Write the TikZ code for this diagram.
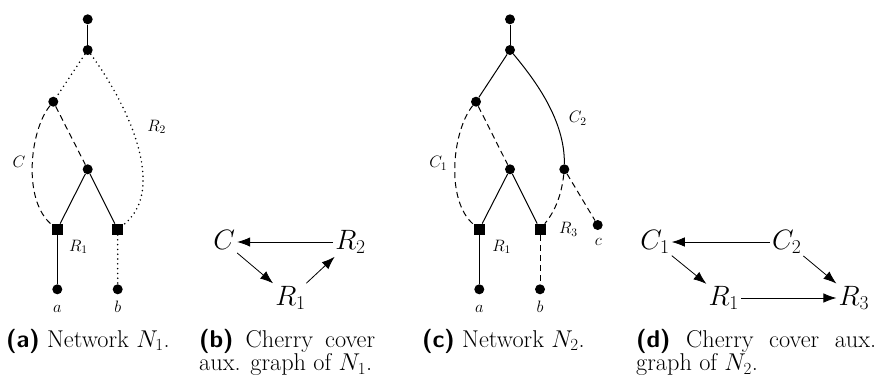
\RequirePackage{fix-cm}
\documentclass[tikz,border=0pt]{standalone}
\usetikzlibrary{arrows.meta}
\newcommand{\capfont}{\fontsize{24.3}{27}\selectfont}
\newcommand{\lblfont}{\fontsize{16.5}{19}\selectfont}
\newcommand{\bigfont}{\fontsize{28}{33}\selectfont}
\newcommand{\capline}[2]{\hbox to #1{\spaceskip=.333em plus 1fil minus .1em\relax #2}}
\newcommand{\sublabel}[1]{{\sffamily\bfseries (#1)}}
\tikzset{
  vdot/.style={circle, fill, inner sep=0pt, minimum size=10pt},
  vsq/.style={rectangle, fill, inner sep=0pt, minimum size=11pt},
  lbl/.style={font=\lblfont, inner sep=0pt},
  lblb/.style={font=\lblfont, inner sep=0pt, anchor=base},
  bignode/.style={font=\bigfont, inner sep=2pt, text height=19.6pt, text depth=5.6pt},
  captext/.style={font=\capfont, inner sep=0pt, anchor=base west},
  solidline/.style={line width=1pt},
  dsh/.style={solidline, dash pattern=on 6pt off 4pt},
  dtd/.style={line width=1.7pt, dash pattern=on 0pt off 4.8pt, line cap=round},
  arr/.style={line width=0.8pt, -{Latex[length=13pt,width=9.5pt]}}
}
\begin{document}
\begin{tikzpicture}[x=1pt,y=-1pt]
\useasboundingbox (0,0) rectangle (883,376);
% ---------- (a) ----------
\node[vdot] (at1) at (87.7,19.3) {};
\node[vdot] (at2) at (87.7,50) {};
\node[vdot] (al) at (53.3,101.7) {};
\node[vdot] (am) at (87.7,169.3) {};
\node[vsq] (as1) at (57.3,229.3) {};
\node[vsq] (as2) at (117.7,229.3) {};
\node[vdot] (aa) at (57.3,289.3) {};
\node[vdot] (ab) at (117.7,289.3) {};
\draw[solidline] (at1) -- (at2);
\draw[dtd] (at2) -- (al);
\draw[dtd] (at2) .. controls (128,105) and (168,190) .. (as2);
\draw[dsh] (al) -- (am);
\draw[dsh] (al) .. controls (30,130) and (22,200) .. (as1);
\draw[solidline] (am) -- (as1);
\draw[solidline] (am) -- (as2);
\draw[solidline] (as1) -- (aa);
\draw[dtd] (as2) -- (ab);
\node[lbl] (aC) at (19,162) {$C$};
\node[lbl] (aR2) at (156.7,127) {$R_2$};
\node[lbl] (aR1) at (78.3,247) {$R_1$};
\node[lblb] (ala) at (57.3,312) {$a$};
\node[lblb] (alb) at (117.7,312) {$b$};
% ---------- (b) ----------
\node[bignode] (bC) at (224.2,242) {$C$};
\node[bignode] (bR2) at (350.5,242) {$R_2$};
\node[bignode] (bR1) at (290.5,298) {$R_1$};
\draw[arr] (bR2) -- (bC);
\draw[arr] (bC) -- (bR1);
\draw[arr] (bR1) -- (bR2);
% ---------- (c) ----------
\node[vdot] (ct1) at (510,19.3) {};
\node[vdot] (ct2) at (510,50) {};
\node[vdot] (cl) at (476,101.7) {};
\node[vdot] (cm) at (510,169.3) {};
\node[vdot] (cr) at (564.3,169.3) {};
\node[vsq] (cs1) at (479.3,229.3) {};
\node[vsq] (cs3) at (540,229.3) {};
\node[vdot] (cc) at (597.7,225) {};
\node[vdot] (ca) at (479.3,289.3) {};
\node[vdot] (cb) at (540,289.3) {};
\draw[solidline] (ct1) -- (ct2);
\draw[solidline] (ct2) -- (cl);
\draw[solidline] (ct2) .. controls (535,80) and (565,120) .. (cr);
\draw[dsh] (cl) -- (cm);
\draw[dsh] (cl) .. controls (452.7,130) and (444.7,200) .. (cs1);
\draw[solidline] (cm) -- (cs1);
\draw[solidline] (cm) -- (cs3);
\draw[dsh] (cr) .. controls (561,200) and (552,215) .. (cs3);
\draw[dsh] (cr) -- (cc);
\draw[solidline] (cs1) -- (ca);
\draw[dsh] (cs3) -- (cb);
\node[lbl] (cC1) at (438.3,163.3) {$C_1$};
\node[lbl] (cC2) at (577.7,118.3) {$C_2$};
\node[lbl] (cR1) at (501.7,247) {$R_1$};
\node[lbl] (cR3) at (568.3,229.3) {$R_3$};
\node[lbl] (clc) at (598.3,241.7) {$c$};
\node[lblb] (cla) at (479.3,312) {$a$};
\node[lblb] (clb) at (540,312) {$b$};
% ---------- (d) ----------
\node[bignode] (dC1) at (655,242) {$C_1$};
\node[bignode] (dC2) at (786.7,242) {$C_2$};
\node[bignode] (dR1) at (723.8,298) {$R_1$};
\node[bignode] (dR3) at (853.8,298) {$R_3$};
\draw[arr] (dC2) -- (dC1);
\draw[arr] (dC1) -- (dR1);
\draw[arr] (dC2) -- (dR3);
\draw[arr] (dR1) -- (dR3);
% ---------- captions ----------
\node[captext] (capa) at (6,347) {\sublabel{a} Network $N_1$.};
\node[captext] (capb1) at (199,347) {\capline{176pt}{\sublabel{b} Cherry cover}};
\node[captext] (capb2) at (199,370.5) {aux. graph of $N_1$.};
\node[captext] (capc) at (422,347) {\sublabel{c} Network $N_2$.};
\node[captext] (capd1) at (636,347) {\capline{240pt}{\sublabel{d} Cherry cover aux.}};
\node[captext] (capd2) at (636,370.5) {graph of $N_2$.};
\end{tikzpicture}
\end{document}
